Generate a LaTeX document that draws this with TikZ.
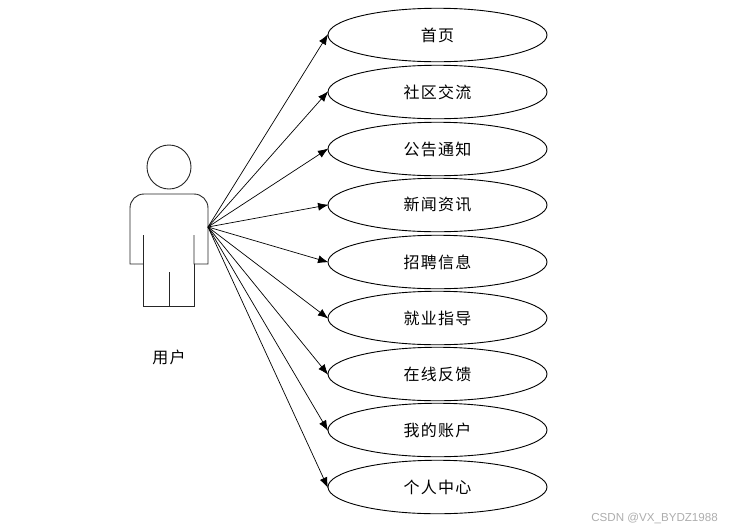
\documentclass[tikz,border=0pt]{standalone}
\usepackage{fontspec}
\setmainfont{Noto Sans CJK SC}[LetterSpace=8]
\newfontfamily\wmfont{Liberation Sans}
\usetikzlibrary{shapes.geometric,arrows.meta}
\tikzset{
  usecase/.style={draw,ellipse,minimum width=219pt,minimum height=53.5pt,inner sep=0pt,line width=0.9pt,font=\fontsize{16pt}{18pt}\selectfont},
  link/.style={draw,line width=0.7pt,shorten >=-1pt,-{Latex[length=10.5pt,width=8pt]}},
  actor/.style={line width=0.9pt,draw=black!85}
}
\begin{document}
\begin{tikzpicture}[x=1pt,y=-1pt]
\useasboundingbox (0,0) rectangle (736,531);
\draw[actor] (169,167) circle (22);
\draw[actor] (143.5,235) -- (143.5,264) -- (130,264) -- (130,208) arc[start angle=180,end angle=270,radius=14] -- (194,194) arc[start angle=270,end angle=360,radius=14] -- (208,264) -- (194,264) -- (194,235);
\draw[actor] (143.5,264) -- (143.5,306) -- (194,306) -- (194,264);
\draw[actor] (169,272) -- (169,306);
\coordinate (src) at (208,227);
\node[font=\fontsize{16pt}{18pt}\selectfont] (actorlabel) at (169,357) {用户};
\node[usecase] (u1) at (437.5,35) {首页};
\node[usecase] (u2) at (437.5,92) {社区交流};
\node[usecase] (u3) at (437.5,149) {公告通知};
\node[usecase] (u4) at (437.5,205) {新闻资讯};
\node[usecase] (u5) at (437.5,262) {招聘信息};
\node[usecase] (u6) at (437.5,318) {就业指导};
\node[usecase] (u7) at (437.5,374) {在线反馈};
\node[usecase] (u8) at (437.5,430) {我的账户};
\node[usecase] (u9) at (437.5,487) {个人中心};
\foreach \n in {u1,u2,u3,u4,u5,u6,u7,u8,u9} \draw[link] (src) -- (\n.west);
\node[font=\wmfont\fontsize{11.6pt}{13pt}\selectfont,text=black!32,anchor=east,inner sep=0pt] (wm) at (718,518) {CSDN @VX\_BYDZ1988};
\end{tikzpicture}
\end{document}
